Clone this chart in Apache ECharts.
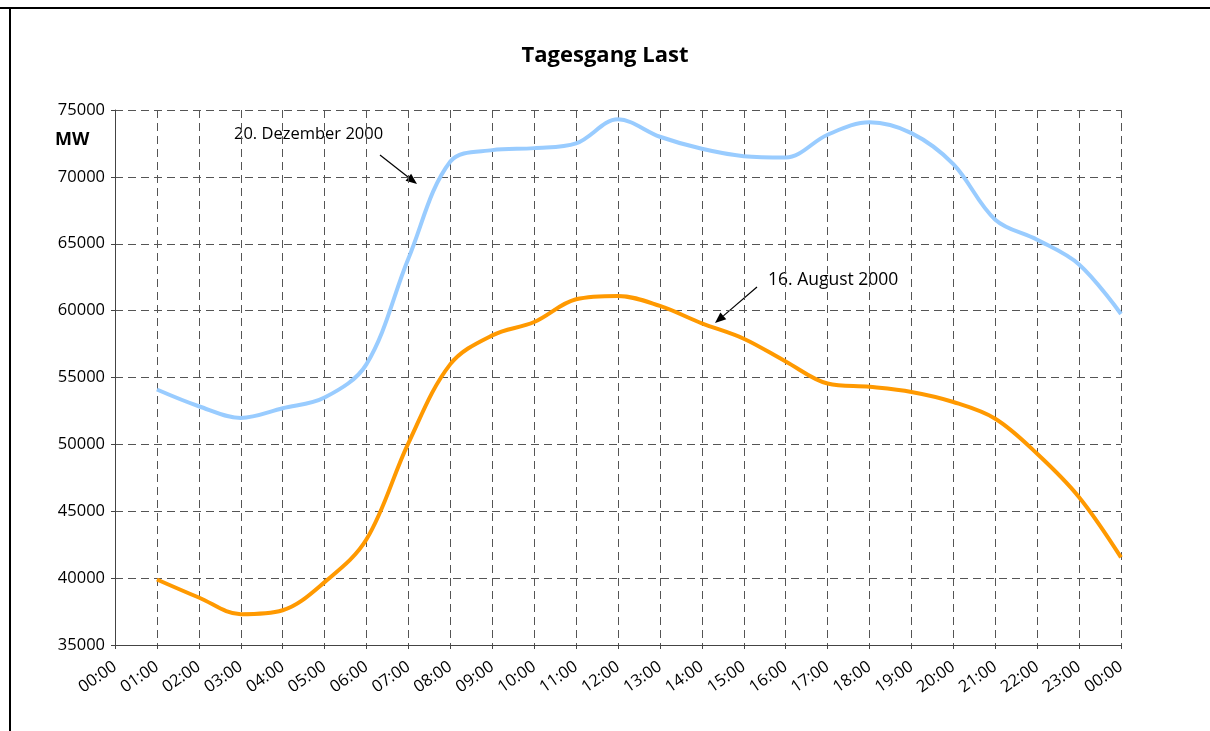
<!DOCTYPE html>
<html>
<head>
<meta charset="utf-8">
<title>Tagesgang Last</title>
<script src="https://cdn.jsdelivr.net/npm/echarts@6/dist/echarts.min.js"></script>
<style>
  html, body { margin: 0; padding: 0; background: #fff; }
  #main { width: 1210px; height: 731px; }
</style>
</head>
<body>
<div id="main"></div>
<script>
// hour labels on the x axis (first slot 00:00 has no data)
var hours = ['00:00', '01:00', '02:00', '03:00', '04:00', '05:00', '06:00', '07:00', '08:00',
  '09:00', '10:00', '11:00', '12:00', '13:00', '14:00', '15:00', '16:00', '17:00', '18:00',
  '19:00', '20:00', '21:00', '22:00', '23:00', '00:00']

// load in MW, 01:00 .. 00:00
var dezember = [54100, 52850, 51980, 52700, 53500, 56000, 63900, 71150, 72000, 72150, 72500, 74300,
  73000, 72100, 71550, 71450, 73150, 74080, 73270, 70950, 66800, 65300, 63450, 59750]
var august = [39900, 38550, 37300, 37600, 39700, 42900, 50100, 56000, 58150, 59150, 60850, 61100,
  60350, 59050, 57900, 56200, 54550, 54300, 53920, 53170, 51920, 49300, 46050, 41550]

var yTicks = { min: 35000, max: 75000, step: 5000 }

var labelFont = '"Open Sans", "DejaVu Sans", sans-serif'

function arrow(x1, y1, x2, y2) {
  var ang = Math.atan2(y2 - y1, x2 - x1)
  var len = 11, w = 4.5
  var bx = x2 - len * Math.cos(ang), by = y2 - len * Math.sin(ang)
  var px = -Math.sin(ang) * w, py = Math.cos(ang) * w
  return [
    { type: 'line', shape: { x1: x1, y1: y1, x2: bx, y2: by }, style: { stroke: '#000', lineWidth: 1.2 } },
    { type: 'polygon', shape: { points: [[x2, y2], [bx + px, by + py], [bx - px, by - py]] }, style: { fill: '#000' } }
  ]
}

var myChart = echarts.init(document.getElementById('main'))

var option = {
  backgroundColor: '#fff',
  animation: false,
  title: {
    text: 'Tagesgang Last',
    left: 'center',
    top: 40,
    textStyle: { fontFamily: labelFont, fontSize: 22, fontWeight: 'bold', color: '#000' }
  },
  grid: { left: 115, right: 89, top: 110, bottom: 86 },
  xAxis: {
    type: 'category',
    data: hours,
    boundaryGap: false,
    axisLine: { lineStyle: { color: '#444', width: 1 } },
    axisTick: { show: true, interval: 0, length: 4, lineStyle: { color: '#444' } },
    axisLabel: {
      interval: 0,
      rotate: 35,
      margin: 20,
      color: '#000',
      fontFamily: labelFont,
      fontSize: 16.5
    },
    splitLine: { show: true, interval: 0, lineStyle: { color: '#555', type: [8, 5], width: 1 } }
  },
  yAxis: {
    type: 'value',
    min: yTicks.min,
    max: yTicks.max,
    interval: yTicks.step,
    axisLine: { show: true, lineStyle: { color: '#444', width: 1 } },
    axisTick: { show: true, length: 4, lineStyle: { color: '#444' } },
    axisLabel: {
      color: '#000', fontFamily: labelFont, fontSize: 16.5, margin: 10,
      formatter: function(v) { return String(v) }
    },
    splitLine: { show: true, lineStyle: { color: '#555', type: [8, 5], width: 1 } }
  },
  series: [
    {
      name: '20. Dezember 2000',
      type: 'line',
      data: ['-'].concat(dezember),
      smooth: 0.35,
      showSymbol: false,
      lineStyle: { color: '#99ccff', width: 4 },
      itemStyle: { color: '#99ccff' }
    },
    {
      name: '16. August 2000',
      type: 'line',
      data: ['-'].concat(august),
      smooth: 0.35,
      showSymbol: false,
      lineStyle: { color: '#ff9900', width: 4 },
      itemStyle: { color: '#ff9900' }
    }
  ],
  graphic: [
    // frame
    { type: 'line', shape: { x1: 0, y1: 8, x2: 1210, y2: 8 }, style: { stroke: '#000', lineWidth: 2 } },
    { type: 'line', shape: { x1: 10, y1: 8, x2: 10, y2: 731 }, style: { stroke: '#000', lineWidth: 2 } },
    { type: 'text', left: 55, top: 131, style: { text: 'MW', font: 'bold 18px ' + labelFont, fill: '#000' } },
    { type: 'text', left: 234, top: 126, style: { text: '20. Dezember 2000', font: '16.5px ' + labelFont, fill: '#000' } },
    { type: 'text', left: 768, top: 271, style: { text: '16. August 2000', font: '17.5px ' + labelFont, fill: '#000' } }
  ].concat(arrow(380, 155, 417, 184)).concat(arrow(757, 287, 715, 323))
}

myChart.setOption(option)
</script>
</body>
</html>
